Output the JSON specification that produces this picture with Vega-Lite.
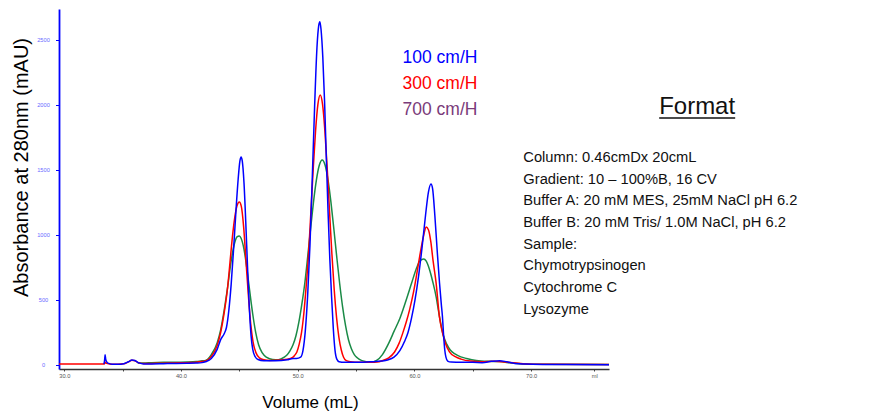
{
  "$schema": "https://vega.github.io/schema/vega-lite/v6.json",
  "width": 550,
  "height": 360,
  "autosize": {"type": "none"},
  "padding": {"left": 59, "top": 9, "right": 278, "bottom": 45},
  "background": "white",
  "config": {
    "view": {"stroke": null},
    "font": "Liberation Sans",
    "axis": {"grid": false, "titleFont": "Liberation Sans", "titleFontWeight": "normal", "titleColor": "#000", "labelFont": "Liberation Sans"}
  },
  "datasets": {
    "curves": [
      {"rate": "700 cm/H", "volume": 36.3, "absorbance": 16}, {"rate": "700 cm/H", "volume": 36.8, "absorbance": 15},
      {"rate": "700 cm/H", "volume": 37.5, "absorbance": 18}, {"rate": "700 cm/H", "volume": 38.5, "absorbance": 20},
      {"rate": "700 cm/H", "volume": 39.5, "absorbance": 20}, {"rate": "700 cm/H", "volume": 40.5, "absorbance": 22},
      {"rate": "700 cm/H", "volume": 41.3, "absorbance": 26}, {"rate": "700 cm/H", "volume": 41.8, "absorbance": 32},
      {"rate": "700 cm/H", "volume": 42.1, "absorbance": 35}, {"rate": "700 cm/H", "volume": 42.6, "absorbance": 80},
      {"rate": "700 cm/H", "volume": 43.1, "absorbance": 170}, {"rate": "700 cm/H", "volume": 43.4, "absorbance": 270},
      {"rate": "700 cm/H", "volume": 43.7, "absorbance": 420}, {"rate": "700 cm/H", "volume": 44.0, "absorbance": 600},
      {"rate": "700 cm/H", "volume": 44.3, "absorbance": 800}, {"rate": "700 cm/H", "volume": 44.6, "absorbance": 940},
      {"rate": "700 cm/H", "volume": 44.8, "absorbance": 985}, {"rate": "700 cm/H", "volume": 45.0, "absorbance": 992},
      {"rate": "700 cm/H", "volume": 45.15, "absorbance": 975}, {"rate": "700 cm/H", "volume": 45.4, "absorbance": 890},
      {"rate": "700 cm/H", "volume": 45.65, "absorbance": 740}, {"rate": "700 cm/H", "volume": 45.9, "absorbance": 560},
      {"rate": "700 cm/H", "volume": 46.15, "absorbance": 390}, {"rate": "700 cm/H", "volume": 46.4, "absorbance": 250},
      {"rate": "700 cm/H", "volume": 46.65, "absorbance": 155}, {"rate": "700 cm/H", "volume": 46.95, "absorbance": 95},
      {"rate": "700 cm/H", "volume": 47.35, "absorbance": 58}, {"rate": "700 cm/H", "volume": 47.85, "absorbance": 42},
      {"rate": "700 cm/H", "volume": 48.35, "absorbance": 40}, {"rate": "700 cm/H", "volume": 48.85, "absorbance": 60},
      {"rate": "700 cm/H", "volume": 49.1, "absorbance": 78}, {"rate": "700 cm/H", "volume": 49.35, "absorbance": 110},
      {"rate": "700 cm/H", "volume": 49.6, "absorbance": 155}, {"rate": "700 cm/H", "volume": 49.85, "absorbance": 225},
      {"rate": "700 cm/H", "volume": 50.1, "absorbance": 330}, {"rate": "700 cm/H", "volume": 50.35, "absorbance": 465},
      {"rate": "700 cm/H", "volume": 50.6, "absorbance": 623}, {"rate": "700 cm/H", "volume": 50.85, "absorbance": 827},
      {"rate": "700 cm/H", "volume": 51.1, "absorbance": 1044}, {"rate": "700 cm/H", "volume": 51.35, "absorbance": 1251},
      {"rate": "700 cm/H", "volume": 51.6, "absorbance": 1422}, {"rate": "700 cm/H", "volume": 51.85, "absorbance": 1536},
      {"rate": "700 cm/H", "volume": 52.1, "absorbance": 1577}, {"rate": "700 cm/H", "volume": 52.35, "absorbance": 1536},
      {"rate": "700 cm/H", "volume": 52.6, "absorbance": 1422}, {"rate": "700 cm/H", "volume": 52.85, "absorbance": 1251},
      {"rate": "700 cm/H", "volume": 53.1, "absorbance": 1044}, {"rate": "700 cm/H", "volume": 53.35, "absorbance": 827},
      {"rate": "700 cm/H", "volume": 53.6, "absorbance": 623}, {"rate": "700 cm/H", "volume": 53.85, "absorbance": 445},
      {"rate": "700 cm/H", "volume": 54.1, "absorbance": 302}, {"rate": "700 cm/H", "volume": 54.35, "absorbance": 194},
      {"rate": "700 cm/H", "volume": 54.6, "absorbance": 125}, {"rate": "700 cm/H", "volume": 54.85, "absorbance": 80},
      {"rate": "700 cm/H", "volume": 55.1, "absorbance": 55}, {"rate": "700 cm/H", "volume": 55.45, "absorbance": 35},
      {"rate": "700 cm/H", "volume": 55.85, "absorbance": 25}, {"rate": "700 cm/H", "volume": 56.2, "absorbance": 20},
      {"rate": "700 cm/H", "volume": 56.76, "absorbance": 35}, {"rate": "700 cm/H", "volume": 57.26, "absorbance": 80},
      {"rate": "700 cm/H", "volume": 57.76, "absorbance": 160}, {"rate": "700 cm/H", "volume": 58.26, "absorbance": 260},
      {"rate": "700 cm/H", "volume": 58.76, "absorbance": 360}, {"rate": "700 cm/H", "volume": 59.26, "absorbance": 490},
      {"rate": "700 cm/H", "volume": 59.76, "absorbance": 630}, {"rate": "700 cm/H", "volume": 60.16, "absorbance": 740},
      {"rate": "700 cm/H", "volume": 60.46, "absorbance": 800}, {"rate": "700 cm/H", "volume": 60.8, "absorbance": 815},
      {"rate": "700 cm/H", "volume": 61.0, "absorbance": 800}, {"rate": "700 cm/H", "volume": 61.27, "absorbance": 740},
      {"rate": "700 cm/H", "volume": 61.57, "absorbance": 640}, {"rate": "700 cm/H", "volume": 61.87, "absorbance": 520},
      {"rate": "700 cm/H", "volume": 62.02, "absorbance": 440}, {"rate": "700 cm/H", "volume": 62.17, "absorbance": 360},
      {"rate": "700 cm/H", "volume": 62.47, "absorbance": 230}, {"rate": "700 cm/H", "volume": 62.77, "absorbance": 160},
      {"rate": "700 cm/H", "volume": 63.07, "absorbance": 115}, {"rate": "700 cm/H", "volume": 63.47, "absorbance": 85},
      {"rate": "700 cm/H", "volume": 63.97, "absorbance": 62}, {"rate": "700 cm/H", "volume": 64.47, "absorbance": 50},
      {"rate": "700 cm/H", "volume": 65.3, "absorbance": 35}, {"rate": "700 cm/H", "volume": 66.3, "absorbance": 28},
      {"rate": "700 cm/H", "volume": 67.3, "absorbance": 26}, {"rate": "700 cm/H", "volume": 68.3, "absorbance": 15},
      {"rate": "700 cm/H", "volume": 69.3, "absorbance": 8}, {"rate": "700 cm/H", "volume": 70.5, "absorbance": 5},
      {"rate": "700 cm/H", "volume": 76.67, "absorbance": 3},

      {"rate": "300 cm/H", "volume": 29.56, "absorbance": 8}, {"rate": "300 cm/H", "volume": 33.3, "absorbance": 8},
      {"rate": "300 cm/H", "volume": 33.42, "absorbance": 8}, {"rate": "300 cm/H", "volume": 33.5, "absorbance": 20},
      {"rate": "300 cm/H", "volume": 33.62, "absorbance": 12}, {"rate": "300 cm/H", "volume": 34.0, "absorbance": 6},
      {"rate": "300 cm/H", "volume": 34.6, "absorbance": 6}, {"rate": "300 cm/H", "volume": 35.1, "absorbance": 9},
      {"rate": "300 cm/H", "volume": 35.5, "absorbance": 24}, {"rate": "300 cm/H", "volume": 35.8, "absorbance": 36},
      {"rate": "300 cm/H", "volume": 36.05, "absorbance": 33}, {"rate": "300 cm/H", "volume": 36.4, "absorbance": 16},
      {"rate": "300 cm/H", "volume": 36.8, "absorbance": 11}, {"rate": "300 cm/H", "volume": 37.5, "absorbance": 12},
      {"rate": "300 cm/H", "volume": 38.5, "absorbance": 14}, {"rate": "300 cm/H", "volume": 39.5, "absorbance": 16},
      {"rate": "300 cm/H", "volume": 40.5, "absorbance": 18}, {"rate": "300 cm/H", "volume": 41.3, "absorbance": 21},
      {"rate": "300 cm/H", "volume": 41.8, "absorbance": 26}, {"rate": "300 cm/H", "volume": 42.1, "absorbance": 30},
      {"rate": "300 cm/H", "volume": 42.6, "absorbance": 65}, {"rate": "300 cm/H", "volume": 43.1, "absorbance": 150},
      {"rate": "300 cm/H", "volume": 43.4, "absorbance": 250}, {"rate": "300 cm/H", "volume": 43.7, "absorbance": 400},
      {"rate": "300 cm/H", "volume": 44.0, "absorbance": 600}, {"rate": "300 cm/H", "volume": 44.2, "absorbance": 790},
      {"rate": "300 cm/H", "volume": 44.4, "absorbance": 980}, {"rate": "300 cm/H", "volume": 44.6, "absorbance": 1130},
      {"rate": "300 cm/H", "volume": 44.8, "absorbance": 1225}, {"rate": "300 cm/H", "volume": 45.0, "absorbance": 1254},
      {"rate": "300 cm/H", "volume": 45.17, "absorbance": 1220}, {"rate": "300 cm/H", "volume": 45.37, "absorbance": 1060},
      {"rate": "300 cm/H", "volume": 45.57, "absorbance": 800}, {"rate": "300 cm/H", "volume": 45.77, "absorbance": 540},
      {"rate": "300 cm/H", "volume": 45.97, "absorbance": 320}, {"rate": "300 cm/H", "volume": 46.17, "absorbance": 180},
      {"rate": "300 cm/H", "volume": 46.42, "absorbance": 95}, {"rate": "300 cm/H", "volume": 46.72, "absorbance": 55},
      {"rate": "300 cm/H", "volume": 47.1, "absorbance": 40}, {"rate": "300 cm/H", "volume": 47.6, "absorbance": 35},
      {"rate": "300 cm/H", "volume": 48.1, "absorbance": 36}, {"rate": "300 cm/H", "volume": 49.1, "absorbance": 44},
      {"rate": "300 cm/H", "volume": 49.6, "absorbance": 60}, {"rate": "300 cm/H", "volume": 49.73, "absorbance": 73},
      {"rate": "300 cm/H", "volume": 49.93, "absorbance": 100}, {"rate": "300 cm/H", "volume": 50.13, "absorbance": 160},
      {"rate": "300 cm/H", "volume": 50.33, "absorbance": 250}, {"rate": "300 cm/H", "volume": 50.53, "absorbance": 400},
      {"rate": "300 cm/H", "volume": 50.73, "absorbance": 610}, {"rate": "300 cm/H", "volume": 50.93, "absorbance": 854},
      {"rate": "300 cm/H", "volume": 51.13, "absorbance": 1176}, {"rate": "300 cm/H", "volume": 51.33, "absorbance": 1508},
      {"rate": "300 cm/H", "volume": 51.53, "absorbance": 1800}, {"rate": "300 cm/H", "volume": 51.73, "absorbance": 2004},
      {"rate": "300 cm/H", "volume": 51.93, "absorbance": 2077}, {"rate": "300 cm/H", "volume": 52.13, "absorbance": 2004},
      {"rate": "300 cm/H", "volume": 52.33, "absorbance": 1800}, {"rate": "300 cm/H", "volume": 52.53, "absorbance": 1508},
      {"rate": "300 cm/H", "volume": 52.73, "absorbance": 1176}, {"rate": "300 cm/H", "volume": 52.93, "absorbance": 854},
      {"rate": "300 cm/H", "volume": 53.13, "absorbance": 577}, {"rate": "300 cm/H", "volume": 53.33, "absorbance": 364},
      {"rate": "300 cm/H", "volume": 53.53, "absorbance": 213}, {"rate": "300 cm/H", "volume": 53.73, "absorbance": 117},
      {"rate": "300 cm/H", "volume": 53.93, "absorbance": 59}, {"rate": "300 cm/H", "volume": 54.13, "absorbance": 35},
      {"rate": "300 cm/H", "volume": 54.5, "absorbance": 25}, {"rate": "300 cm/H", "volume": 55.3, "absorbance": 20},
      {"rate": "300 cm/H", "volume": 56.3, "absorbance": 20}, {"rate": "300 cm/H", "volume": 56.8, "absorbance": 22},
      {"rate": "300 cm/H", "volume": 57.3, "absorbance": 35}, {"rate": "300 cm/H", "volume": 57.8, "absorbance": 55},
      {"rate": "300 cm/H", "volume": 58.3, "absorbance": 100}, {"rate": "300 cm/H", "volume": 58.7, "absorbance": 170},
      {"rate": "300 cm/H", "volume": 59.0, "absorbance": 245}, {"rate": "300 cm/H", "volume": 59.3, "absorbance": 330},
      {"rate": "300 cm/H", "volume": 59.6, "absorbance": 430}, {"rate": "300 cm/H", "volume": 59.9, "absorbance": 550},
      {"rate": "300 cm/H", "volume": 60.2, "absorbance": 700}, {"rate": "300 cm/H", "volume": 60.5, "absorbance": 860},
      {"rate": "300 cm/H", "volume": 60.8, "absorbance": 1000}, {"rate": "300 cm/H", "volume": 61.0, "absorbance": 1061},
      {"rate": "300 cm/H", "volume": 61.2, "absorbance": 1040}, {"rate": "300 cm/H", "volume": 61.4, "absorbance": 950},
      {"rate": "300 cm/H", "volume": 61.6, "absorbance": 800}, {"rate": "300 cm/H", "volume": 61.86, "absorbance": 630},
      {"rate": "300 cm/H", "volume": 62.14, "absorbance": 372}, {"rate": "300 cm/H", "volume": 62.4, "absorbance": 250},
      {"rate": "300 cm/H", "volume": 62.65, "absorbance": 169}, {"rate": "300 cm/H", "volume": 63.0, "absorbance": 100},
      {"rate": "300 cm/H", "volume": 63.5, "absorbance": 64}, {"rate": "300 cm/H", "volume": 64.0, "absorbance": 45},
      {"rate": "300 cm/H", "volume": 64.8, "absorbance": 30}, {"rate": "300 cm/H", "volume": 65.8, "absorbance": 25},
      {"rate": "300 cm/H", "volume": 66.8, "absorbance": 28}, {"rate": "300 cm/H", "volume": 67.8, "absorbance": 22},
      {"rate": "300 cm/H", "volume": 69.3, "absorbance": 10}, {"rate": "300 cm/H", "volume": 71.3, "absorbance": 5},
      {"rate": "300 cm/H", "volume": 76.67, "absorbance": 3},

      {"rate": "100 cm/H", "volume": 33.4, "absorbance": 6}, {"rate": "100 cm/H", "volume": 33.46, "absorbance": 40},
      {"rate": "100 cm/H", "volume": 33.5, "absorbance": 78}, {"rate": "100 cm/H", "volume": 33.55, "absorbance": 45},
      {"rate": "100 cm/H", "volume": 33.65, "absorbance": 22}, {"rate": "100 cm/H", "volume": 33.8, "absorbance": 12},
      {"rate": "100 cm/H", "volume": 34.1, "absorbance": 6}, {"rate": "100 cm/H", "volume": 34.6, "absorbance": 5},
      {"rate": "100 cm/H", "volume": 35.1, "absorbance": 9}, {"rate": "100 cm/H", "volume": 35.5, "absorbance": 25},
      {"rate": "100 cm/H", "volume": 35.8, "absorbance": 38}, {"rate": "100 cm/H", "volume": 36.05, "absorbance": 34},
      {"rate": "100 cm/H", "volume": 36.4, "absorbance": 16}, {"rate": "100 cm/H", "volume": 36.8, "absorbance": 8},
      {"rate": "100 cm/H", "volume": 37.5, "absorbance": 8}, {"rate": "100 cm/H", "volume": 38.5, "absorbance": 10},
      {"rate": "100 cm/H", "volume": 39.5, "absorbance": 12}, {"rate": "100 cm/H", "volume": 40.5, "absorbance": 13},
      {"rate": "100 cm/H", "volume": 41.3, "absorbance": 15}, {"rate": "100 cm/H", "volume": 41.8, "absorbance": 18},
      {"rate": "100 cm/H", "volume": 42.1, "absorbance": 25}, {"rate": "100 cm/H", "volume": 42.6, "absorbance": 50},
      {"rate": "100 cm/H", "volume": 43.1, "absorbance": 120}, {"rate": "100 cm/H", "volume": 43.4, "absorbance": 195},
      {"rate": "100 cm/H", "volume": 43.7, "absorbance": 240}, {"rate": "100 cm/H", "volume": 43.9, "absorbance": 290},
      {"rate": "100 cm/H", "volume": 44.1, "absorbance": 420}, {"rate": "100 cm/H", "volume": 44.3, "absorbance": 620},
      {"rate": "100 cm/H", "volume": 44.5, "absorbance": 880}, {"rate": "100 cm/H", "volume": 44.7, "absorbance": 1170},
      {"rate": "100 cm/H", "volume": 44.9, "absorbance": 1430}, {"rate": "100 cm/H", "volume": 45.05, "absorbance": 1570},
      {"rate": "100 cm/H", "volume": 45.15, "absorbance": 1600}, {"rate": "100 cm/H", "volume": 45.25, "absorbance": 1570},
      {"rate": "100 cm/H", "volume": 45.4, "absorbance": 1400}, {"rate": "100 cm/H", "volume": 45.55, "absorbance": 1100},
      {"rate": "100 cm/H", "volume": 45.7, "absorbance": 760}, {"rate": "100 cm/H", "volume": 45.85, "absorbance": 450},
      {"rate": "100 cm/H", "volume": 46.0, "absorbance": 230}, {"rate": "100 cm/H", "volume": 46.15, "absorbance": 120},
      {"rate": "100 cm/H", "volume": 46.35, "absorbance": 65}, {"rate": "100 cm/H", "volume": 46.6, "absorbance": 42},
      {"rate": "100 cm/H", "volume": 47.1, "absorbance": 33}, {"rate": "100 cm/H", "volume": 48.1, "absorbance": 32},
      {"rate": "100 cm/H", "volume": 49.1, "absorbance": 40}, {"rate": "100 cm/H", "volume": 49.6, "absorbance": 50},
      {"rate": "100 cm/H", "volume": 49.9, "absorbance": 50}, {"rate": "100 cm/H", "volume": 50.25, "absorbance": 60},
      {"rate": "100 cm/H", "volume": 50.45, "absorbance": 110}, {"rate": "100 cm/H", "volume": 50.65, "absorbance": 260},
      {"rate": "100 cm/H", "volume": 50.85, "absorbance": 530}, {"rate": "100 cm/H", "volume": 51.05, "absorbance": 920},
      {"rate": "100 cm/H", "volume": 51.25, "absorbance": 1440}, {"rate": "100 cm/H", "volume": 51.45, "absorbance": 1990},
      {"rate": "100 cm/H", "volume": 51.65, "absorbance": 2440}, {"rate": "100 cm/H", "volume": 51.8, "absorbance": 2610},
      {"rate": "100 cm/H", "volume": 51.9, "absorbance": 2640}, {"rate": "100 cm/H", "volume": 52.0, "absorbance": 2580},
      {"rate": "100 cm/H", "volume": 52.15, "absorbance": 2370}, {"rate": "100 cm/H", "volume": 52.3, "absorbance": 2030},
      {"rate": "100 cm/H", "volume": 52.45, "absorbance": 1600}, {"rate": "100 cm/H", "volume": 52.6, "absorbance": 1180},
      {"rate": "100 cm/H", "volume": 52.75, "absorbance": 820}, {"rate": "100 cm/H", "volume": 52.9, "absorbance": 530},
      {"rate": "100 cm/H", "volume": 53.05, "absorbance": 280}, {"rate": "100 cm/H", "volume": 53.2, "absorbance": 110},
      {"rate": "100 cm/H", "volume": 53.35, "absorbance": 45}, {"rate": "100 cm/H", "volume": 53.55, "absorbance": 25},
      {"rate": "100 cm/H", "volume": 54.0, "absorbance": 20}, {"rate": "100 cm/H", "volume": 55.2, "absorbance": 20},
      {"rate": "100 cm/H", "volume": 56.2, "absorbance": 24}, {"rate": "100 cm/H", "volume": 57.2, "absorbance": 30},
      {"rate": "100 cm/H", "volume": 57.7, "absorbance": 38}, {"rate": "100 cm/H", "volume": 58.25, "absorbance": 60},
      {"rate": "100 cm/H", "volume": 58.75, "absorbance": 110}, {"rate": "100 cm/H", "volume": 59.15, "absorbance": 180},
      {"rate": "100 cm/H", "volume": 59.45, "absorbance": 250}, {"rate": "100 cm/H", "volume": 59.75, "absorbance": 360},
      {"rate": "100 cm/H", "volume": 60.05, "absorbance": 500}, {"rate": "100 cm/H", "volume": 60.35, "absorbance": 680},
      {"rate": "100 cm/H", "volume": 60.65, "absorbance": 900}, {"rate": "100 cm/H", "volume": 60.95, "absorbance": 1150},
      {"rate": "100 cm/H", "volume": 61.2, "absorbance": 1330}, {"rate": "100 cm/H", "volume": 61.42, "absorbance": 1392},
      {"rate": "100 cm/H", "volume": 61.55, "absorbance": 1360}, {"rate": "100 cm/H", "volume": 61.75, "absorbance": 1150},
      {"rate": "100 cm/H", "volume": 61.95, "absorbance": 880}, {"rate": "100 cm/H", "volume": 62.15, "absorbance": 630},
      {"rate": "100 cm/H", "volume": 62.3, "absorbance": 470}, {"rate": "100 cm/H", "volume": 62.4, "absorbance": 372},
      {"rate": "100 cm/H", "volume": 62.5, "absorbance": 230}, {"rate": "100 cm/H", "volume": 62.6, "absorbance": 115},
      {"rate": "100 cm/H", "volume": 62.7, "absorbance": 60}, {"rate": "100 cm/H", "volume": 62.85, "absorbance": 30},
      {"rate": "100 cm/H", "volume": 63.15, "absorbance": 22}, {"rate": "100 cm/H", "volume": 64.0, "absorbance": 20},
      {"rate": "100 cm/H", "volume": 65.0, "absorbance": 20}, {"rate": "100 cm/H", "volume": 65.8, "absorbance": 18},
      {"rate": "100 cm/H", "volume": 66.6, "absorbance": 28}, {"rate": "100 cm/H", "volume": 67.3, "absorbance": 33},
      {"rate": "100 cm/H", "volume": 67.9, "absorbance": 25}, {"rate": "100 cm/H", "volume": 68.6, "absorbance": 12},
      {"rate": "100 cm/H", "volume": 69.5, "absorbance": 7}, {"rate": "100 cm/H", "volume": 71.0, "absorbance": 4},
      {"rate": "100 cm/H", "volume": 73.0, "absorbance": 3}, {"rate": "100 cm/H", "volume": 76.67, "absorbance": 2}
    ],
    "notes": [
      {"volume": 69.33, "absorbance": 1562, "line": "Column: 0.46cmDx 20cmL"},
      {"volume": 69.33, "absorbance": 1395, "line": "Gradient: 10 – 100%B, 16 CV"},
      {"volume": 69.33, "absorbance": 1228, "line": "Buffer A: 20 mM MES, 25mM NaCl pH 6.2"},
      {"volume": 69.33, "absorbance": 1061, "line": "Buffer B: 20 mM Tris/ 1.0M NaCl, pH 6.2"},
      {"volume": 69.33, "absorbance": 895, "line": "Sample:"},
      {"volume": 69.33, "absorbance": 728, "line": "Chymotrypsinogen"},
      {"volume": 69.33, "absorbance": 561, "line": "Cytochrome C"},
      {"volume": 69.33, "absorbance": 395, "line": "Lysozyme"}
    ],
    "heading": [
      {"volume": 84.22, "absorbance": 1928, "line": "Format"}
    ],
    "underline": [
      {"volume": 80.97, "volume_end": 87.48, "absorbance": 1900}
    ]
  },
  "layer": [
    {
      "data": {"name": "curves"},
      "mark": {"type": "line", "strokeWidth": 1.5, "interpolate": "monotone", "clip": true},
      "encoding": {
        "x": {
          "field": "volume", "type": "quantitative",
          "scale": {"domain": [29.55, 76.67], "nice": false, "zero": false},
          "axis": {
            "title": "Volume (mL)", "titleFontSize": 17, "titleX": 251, "titleY": 38,
            "titleAlign": "center", "titleBaseline": "alphabetic", "titleAnchor": null,
            "values": [30, 35, 40, 45, 50, 55, 60, 65, 70, 75.4],
            "labelExpr": "datum.value > 75 ? 'ml' : (datum.value % 10 === 0 ? format(datum.value, '.1f') : '')",
            "labelFontSize": 5.7, "labelColor": "#555555", "labelPadding": 1,
            "tickSize": 2, "tickColor": "#444444", "domainColor": "#333333", "domainWidth": 1.5
          }
        },
        "y": {
          "field": "absorbance", "type": "quantitative",
          "scale": {"domain": [-31, 2738], "nice": false, "zero": false},
          "axis": {
            "title": "Absorbance at 280nm (mAU)", "titleFontSize": 20, "titleAngle": -90,
            "titleX": -32, "titleY": 158, "titleAlign": "center", "titleBaseline": "alphabetic", "titleAnchor": null,
            "values": [0, 250, 500, 750, 1000, 1250, 1500, 1750, 2000, 2250, 2500],
            "format": "d",
            "labelExpr": "datum.value % 500 === 0 ? datum.label : ''",
            "labelFontSize": 5.7, "labelColor": "#6b6bff", "labelAlign": "center", "labelBaseline": "middle",
            "labelPadding": 12.5, "tickSize": 3.5, "tickColor": "#0000ff",
            "domainColor": "#0000ff", "domainWidth": 1.8
          }
        },
        "color": {
          "field": "rate", "type": "nominal",
          "scale": {"domain": ["100 cm/H", "300 cm/H", "700 cm/H"], "range": ["#0000ff", "#ff0000", "#1a8a46"]},
          "legend": {
            "orient": "none", "legendX": 326, "legendY": 40, "title": null,
            "symbolSize": 0, "symbolOpacity": 0, "symbolStrokeWidth": 0, "labelOffset": 0,
            "labelFont": "Liberation Sans", "labelFontSize": 17.5, "labelLimit": 300,
            "rowPadding": 7, "padding": 0,
            "encode": {"labels": {"update": {"fill": {"signal": "datum.value === '100 cm/H' ? '#0000ff' : datum.value === '300 cm/H' ? '#ff0000' : '#7a3b7a'"}}}}
          }
        }
      }
    },
    {
      "data": {"name": "notes"},
      "mark": {"type": "text", "align": "left", "baseline": "alphabetic", "font": "Liberation Sans", "fontSize": 14.7, "color": "#111111"},
      "encoding": {
        "x": {"field": "volume", "type": "quantitative"},
        "y": {"field": "absorbance", "type": "quantitative"},
        "text": {"field": "line"}
      }
    },
    {
      "data": {"name": "heading"},
      "mark": {"type": "text", "align": "center", "baseline": "alphabetic", "font": "Liberation Sans", "fontSize": 24, "color": "#111111"},
      "encoding": {
        "x": {"field": "volume", "type": "quantitative"},
        "y": {"field": "absorbance", "type": "quantitative"},
        "text": {"field": "line"}
      }
    },
    {
      "data": {"name": "underline"},
      "mark": {"type": "rule", "strokeWidth": 1.5, "color": "#111111"},
      "encoding": {
        "x": {"field": "volume", "type": "quantitative"},
        "x2": {"field": "volume_end"},
        "y": {"field": "absorbance", "type": "quantitative"}
      }
    }
  ]
}
